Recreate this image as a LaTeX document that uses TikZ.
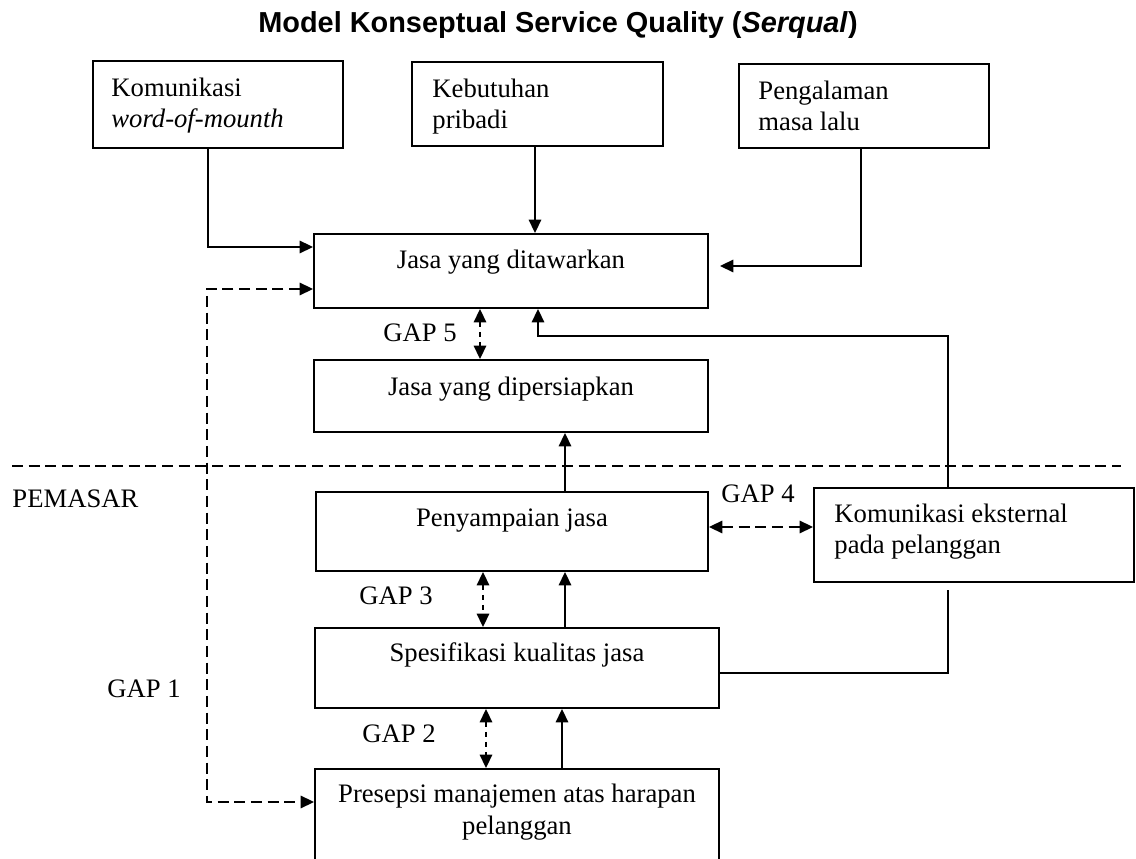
\documentclass[tikz,border=0pt]{standalone}
\usepackage{fontspec}
\setmainfont{Liberation Serif}
\newfontfamily\judulfont{Liberation Sans}
\usetikzlibrary{arrows.meta,calc,fit}

\tikzset{
  kotak/.style={draw,line width=0.9pt,inner sep=0pt},
  teks/.style={inner sep=0pt,font=\fontsize{12}{13.6}\selectfont},
  garis/.style={line width=0.8pt},
  panah/.style={garis,-{Triangle[length=6pt,width=5.6pt]}},
  panah ganda/.style={garis,{Triangle[length=6pt,width=5.6pt]}-{Triangle[length=6pt,width=5.6pt]}},
  putus/.style={dash pattern=on 5pt off 2.5pt},
  putus kecil/.style={dash pattern=on 2.5pt off 2pt},
}

\begin{document}
\begin{tikzpicture}[x=0.45pt,y=-0.45pt]
  \useasboundingbox (0,0) rectangle (1136,859);
  \node[inner sep=0pt,font=\judulfont\bfseries\fontsize{13}{15}\selectfont] (judul) at (558,25)
    {Model Konseptual Service Quality (\textit{Serqual})}; % 表題
  \node[kotak,fit={(93,61) (343,148)}] (wom) {}; % 上段の枠（左）
  \node[kotak,fit={(412,62) (663,146)}] (pribadi) {}; % 上段の枠（中）
  \node[kotak,fit={(739,64) (989,148)}] (lalu) {}; % 上段の枠（右）
  \node[kotak,fit={(314,234) (708,308)}] (tawar) {};
  \node[kotak,fit={(314,360) (708,432)}] (siap) {};
  \node[kotak,fit={(316,492) (708,571)}] (sampai) {};
  \node[kotak,fit={(814,488) (1134,582)}] (eks) {};
  \node[kotak,fit={(315,628) (719,708)}] (spes) {};
  \node[kotak,fit={(315,769) (719,875)}] (pres) {}; % 下端は図の外にはみ出す
  \node[teks,anchor=north west,align=left] (t-wom) at ($(wom.north west)+(19,18)$)
    {Komunikasi\\\textit{word-of-mounth}};
  \node[teks,anchor=north west,align=left] (t-pribadi) at ($(pribadi.north west)+(21,18)$)
    {Kebutuhan\\pribadi};
  \node[teks,anchor=north west,align=left] (t-lalu) at ($(lalu.north west)+(20,18)$)
    {Pengalaman\\masa lalu};
  \node[teks,anchor=base] (t-tawar) at ($(tawar.north)+(0,36)$) {Jasa yang ditawarkan};
  \node[teks,anchor=base] (t-siap) at ($(siap.north)+(0,37)$) {Jasa yang dipersiapkan};
  \node[teks,anchor=base] (t-sampai) at ($(sampai.north)+(0,36)$) {Penyampaian jasa};
  \node[teks,anchor=base] (t-spes) at ($(spes.north)+(0,35)$) {Spesifikasi kualitas jasa};
  \node[teks,anchor=north,align=center,font=\fontsize{12}{14.4}\selectfont] (t-pres)
    at ($(pres.north)+(0,16)$) {Presepsi manajemen atas harapan\\pelanggan};
  \node[teks,anchor=north west,align=left] (t-eks) at ($(eks.north west)+(21,17)$)
    {Komunikasi eksternal\\pada pelanggan};
  \node[teks,anchor=base west] (pemasar) at (12,508) {PEMASAR};
  \node[teks,anchor=base west] (gap1) at (107,698) {GAP 1};
  \node[teks,anchor=base west] (gap2) at (362,743) {GAP 2};
  \node[teks,anchor=base west] (gap3) at (359,605) {GAP 3};
  \node[teks,anchor=base west] (gap4) at (721,503) {GAP 4};
  \node[teks,anchor=base west] (gap5) at (383,342) {GAP 5};
  \draw[garis,putus] (12,466) -- (1121,466); % 境界の点線
  \draw[panah] ($(wom.south)+(-10,0)$) |- ($(tawar.north west)+(0,14)$);
  \draw[panah] (pribadi.south -| 535,0) -- (tawar.north -| 535,0);
  \draw[panah] (lalu.south -| 861,0) |- ($(tawar.east)+(11,-5)$);
  \draw[panah ganda,putus] ($(tawar.south west)+(0,-20)$) -- ++(-106,0)
    |- ($(pres.north west)+(0,34)$); % GAP 1
  \draw[panah ganda,putus kecil] (tawar.south -| 480,0) -- (siap.north -| 480,0); % GAP 5
  \draw[panah] (sampai.north -| 565,0) -- (siap.south -| 565,0);
  \draw[panah] (eks.north -| 948,0) -- ++(0,-151) -| (tawar.south -| 538,0);
  \draw[panah ganda,putus] (sampai.east |- 0,527) -- (eks.west |- 0,527); % GAP 4
  \draw[panah ganda,putus kecil] (sampai.south -| 483,0) -- (spes.north -| 483,0); % GAP 3
  \draw[panah] (spes.north -| 565,0) -- (sampai.south -| 565,0);
  \draw[garis] (spes.east |- 0,673) -| ($(eks.south -| 948,0)+(0,7)$);
  \draw[panah ganda,putus kecil] (spes.south -| 486,0) -- (pres.north -| 486,0); % GAP 2
  \draw[panah] (pres.north -| 562,0) -- (spes.south -| 562,0);
\end{tikzpicture}
\end{document}
